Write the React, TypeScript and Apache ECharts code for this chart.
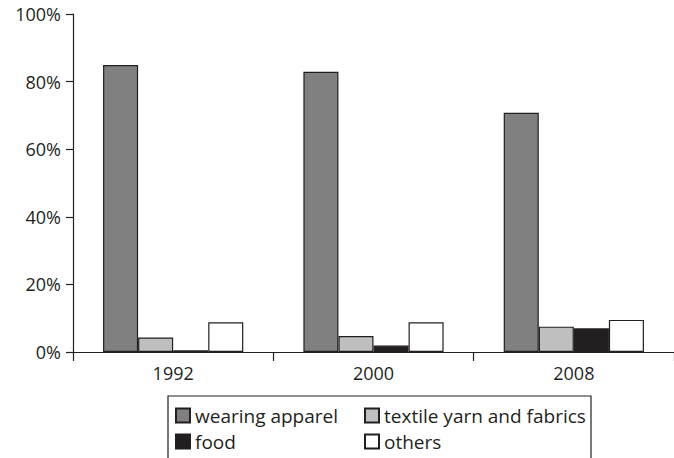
import React, { useEffect, useRef } from "react";
import * as echarts from "echarts";

const years = ["1992", "2000", "2008"];
const seriesNames = ["wearing apparel", "textile yarn and fabrics", "food", "others"];
const wearingApparel = [84.9, 82.9, 70.8];
const textileYarn = [4.3, 4.7, 7.5];
const food = [0.5, 1.9, 7.0];
const others = [8.8, 8.8, 9.5];
const yTicks = [0, 20, 40, 60, 80, 100];

const colors = ["#808080", "#bfbfbf", "#231f20", "#ffffff"];
const ink = "#231f20";
const font = "'Open Sans', 'Noto Sans', sans-serif";

export default function App() {
  const ref = useRef<HTMLDivElement>(null);
  useEffect(() => {
    if (!ref.current) return;
    const chart = echarts.init(ref.current, undefined, { renderer: "svg" });
    const values = [wearingApparel, textileYarn, food, others];
    const legendCommon = {
      orient: "vertical",
      top: 406,
      itemWidth: 14,
      itemHeight: 14,
      itemGap: 7,
      padding: 0,
      icon: "rect",
      textStyle: { color: ink, fontSize: 19, fontFamily: font, lineHeight: 14 },
    };
    chart.setOption({
      animation: false,
      backgroundColor: "#ffffff",
      grid: { left: 73, top: 14, bottom: 106, right: -10, containLabel: false },
      xAxis: {
        type: "category",
        data: years,
        axisLine: { lineStyle: { color: ink, width: 1.2 } },
        axisTick: { show: true, length: 9, lineStyle: { color: ink, width: 1.2 } },
        axisLabel: { color: ink, fontSize: 18, fontFamily: font, margin: 12 },
      },
      yAxis: {
        type: "value",
        min: yTicks[0],
        max: yTicks[yTicks.length - 1],
        interval: 20,
        axisLine: { show: true, lineStyle: { color: ink, width: 1.2 } },
        axisTick: { show: true, length: 7, lineStyle: { color: ink, width: 1.2 } },
        splitLine: { show: false },
        axisLabel: { color: ink, fontSize: 18, fontFamily: font, margin: 12, formatter: "{value}%" },
      },
      graphic: [
        {
          type: "rect",
          shape: { x: 168, y: 396, width: 423, height: 80 },
          style: { fill: "none", stroke: ink, lineWidth: 1.2 },
          z: 0,
        },
      ],
      legend: [
        { ...legendCommon, left: 175, data: [seriesNames[0], seriesNames[2]] },
        { ...legendCommon, left: 364, data: [seriesNames[1], seriesNames[3]] },
      ],
      series: seriesNames.map((name, i) => ({
        name,
        type: "bar",
        data: values[i],
        barGap: "0%",
        barCategoryGap: "30%",
        itemStyle: { color: colors[i], borderColor: ink, borderWidth: 1.2 },
      })),
    });
    return () => chart.dispose();
  }, []);
  return (
    <div
      ref={ref}
      style={{ position: "absolute", left: 0, top: 0, width: 674, height: 458, background: "#fff" }}
    />
  );
}
